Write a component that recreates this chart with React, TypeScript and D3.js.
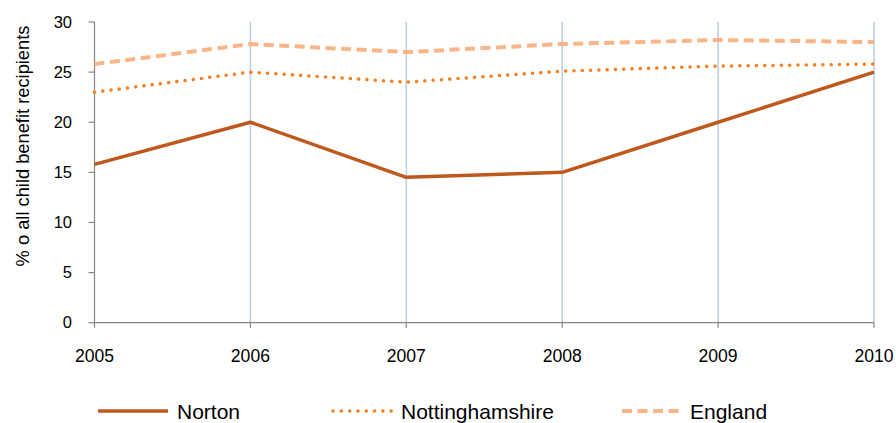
import * as d3 from 'd3';

const years = ['2005', '2006', '2007', '2008', '2009', '2010'];
const norton = [15.8, 20.0, 14.5, 15.0, 20.0, 25.0];
const nottinghamshire = [23.0, 25.0, 24.0, 25.1, 25.6, 25.8];
const england = [25.8, 27.8, 27.0, 27.8, 28.2, 28.0];
const yTicks = [0, 5, 10, 15, 20, 25, 30];

const width = 896;
const height = 423;
const margin = { left: 94.5, right: 22, top: 22, bottom: 100 };
const font = '"Liberation Sans", Arial, sans-serif';

const series = [
    { name: 'Norton', values: norton, color: '#bf581d', width: 3.5, dash: undefined, cap: 'butt' },
    { name: 'Nottinghamshire', values: nottinghamshire, color: '#f4801f', width: 3.5, dash: '0.1 8.2', cap: 'round' },
    { name: 'England', values: england, color: '#f9b588', width: 4, dash: '10 5.5', cap: 'butt' },
];

const legendX = [98, 333, 622];

export default function App() {
    const x = d3
        .scalePoint<string>()
        .domain(years)
        .range([margin.left, width - margin.right]);
    const y = d3
        .scaleLinear()
        .domain([0, 30])
        .range([height - margin.bottom - 0.3, margin.top]);

    const line = d3
        .line<number>()
        .x((_, i) => x(years[i]) as number)
        .y((d) => y(d));

    const y0 = y(0);

    return (
        <>
            <style>{`body{margin:0}`}</style>
            <svg width={width} height={height} style={{ display: 'block', fontFamily: font }}>
                {/* vertical gridlines */}
                {years.slice(1).map((yr) => (
                    <line
                        key={yr}
                        x1={x(yr)}
                        x2={x(yr)}
                        y1={y(30)}
                        y2={y0}
                        stroke="#b9cde5"
                        strokeWidth={1.5}
                    />
                ))}

                {/* y axis */}
                <line x1={margin.left} x2={margin.left} y1={y(30)} y2={y0} stroke="#868686" strokeWidth={1.2} />
                {yTicks.map((t) => (
                    <g key={t}>
                        <line x1={margin.left - 6} x2={margin.left} y1={y(t)} y2={y(t)} stroke="#868686" strokeWidth={1.2} />
                        <text x={72} y={y(t)} dy="0.35em" textAnchor="end" fontSize={16.5} fill="#000">
                            {t}
                        </text>
                    </g>
                ))}

                {/* x axis */}
                <line x1={margin.left} x2={width - margin.right} y1={y0} y2={y0} stroke="#868686" strokeWidth={1.2} />
                {years.map((yr) => (
                    <g key={yr}>
                        <line x1={x(yr)} x2={x(yr)} y1={y0} y2={y0 + 5} stroke="#868686" strokeWidth={1.2} />
                        <text x={x(yr)} y={361.5} textAnchor="middle" fontSize={17.6} fill="#000">
                            {yr}
                        </text>
                    </g>
                ))}

                <text
                    transform={`translate(29,146) rotate(-90)`}
                    textAnchor="middle"
                    fontSize={18.3}
                    fill="#000"
                >
                    % o all child benefit recipients
                </text>

                {/* series */}
                {series.map((s) => (
                    <path
                        key={s.name}
                        d={line(s.values) ?? ''}
                        fill="none"
                        stroke={s.color}
                        strokeWidth={s.width}
                        strokeDasharray={s.dash}
                        strokeLinecap={s.cap as any}
                        strokeLinejoin="round"
                    />
                ))}

                {/* legend */}
                {series.map((s, i) => (
                    <g key={s.name} transform={`translate(${legendX[i]},411)`}>
                        <line
                            x1={0}
                            x2={i === 0 ? 70 : 60}
                            y1={0}
                            y2={0}
                            stroke={s.color}
                            strokeWidth={s.width}
                            strokeDasharray={s.dash}
                            strokeLinecap={s.cap as any}
                        />
                        <text x={i === 0 ? 79 : 68} y={8} fontSize={21} fill="#000">
                            {s.name}
                        </text>
                    </g>
                ))}
            </svg>
        </>
    );
}
